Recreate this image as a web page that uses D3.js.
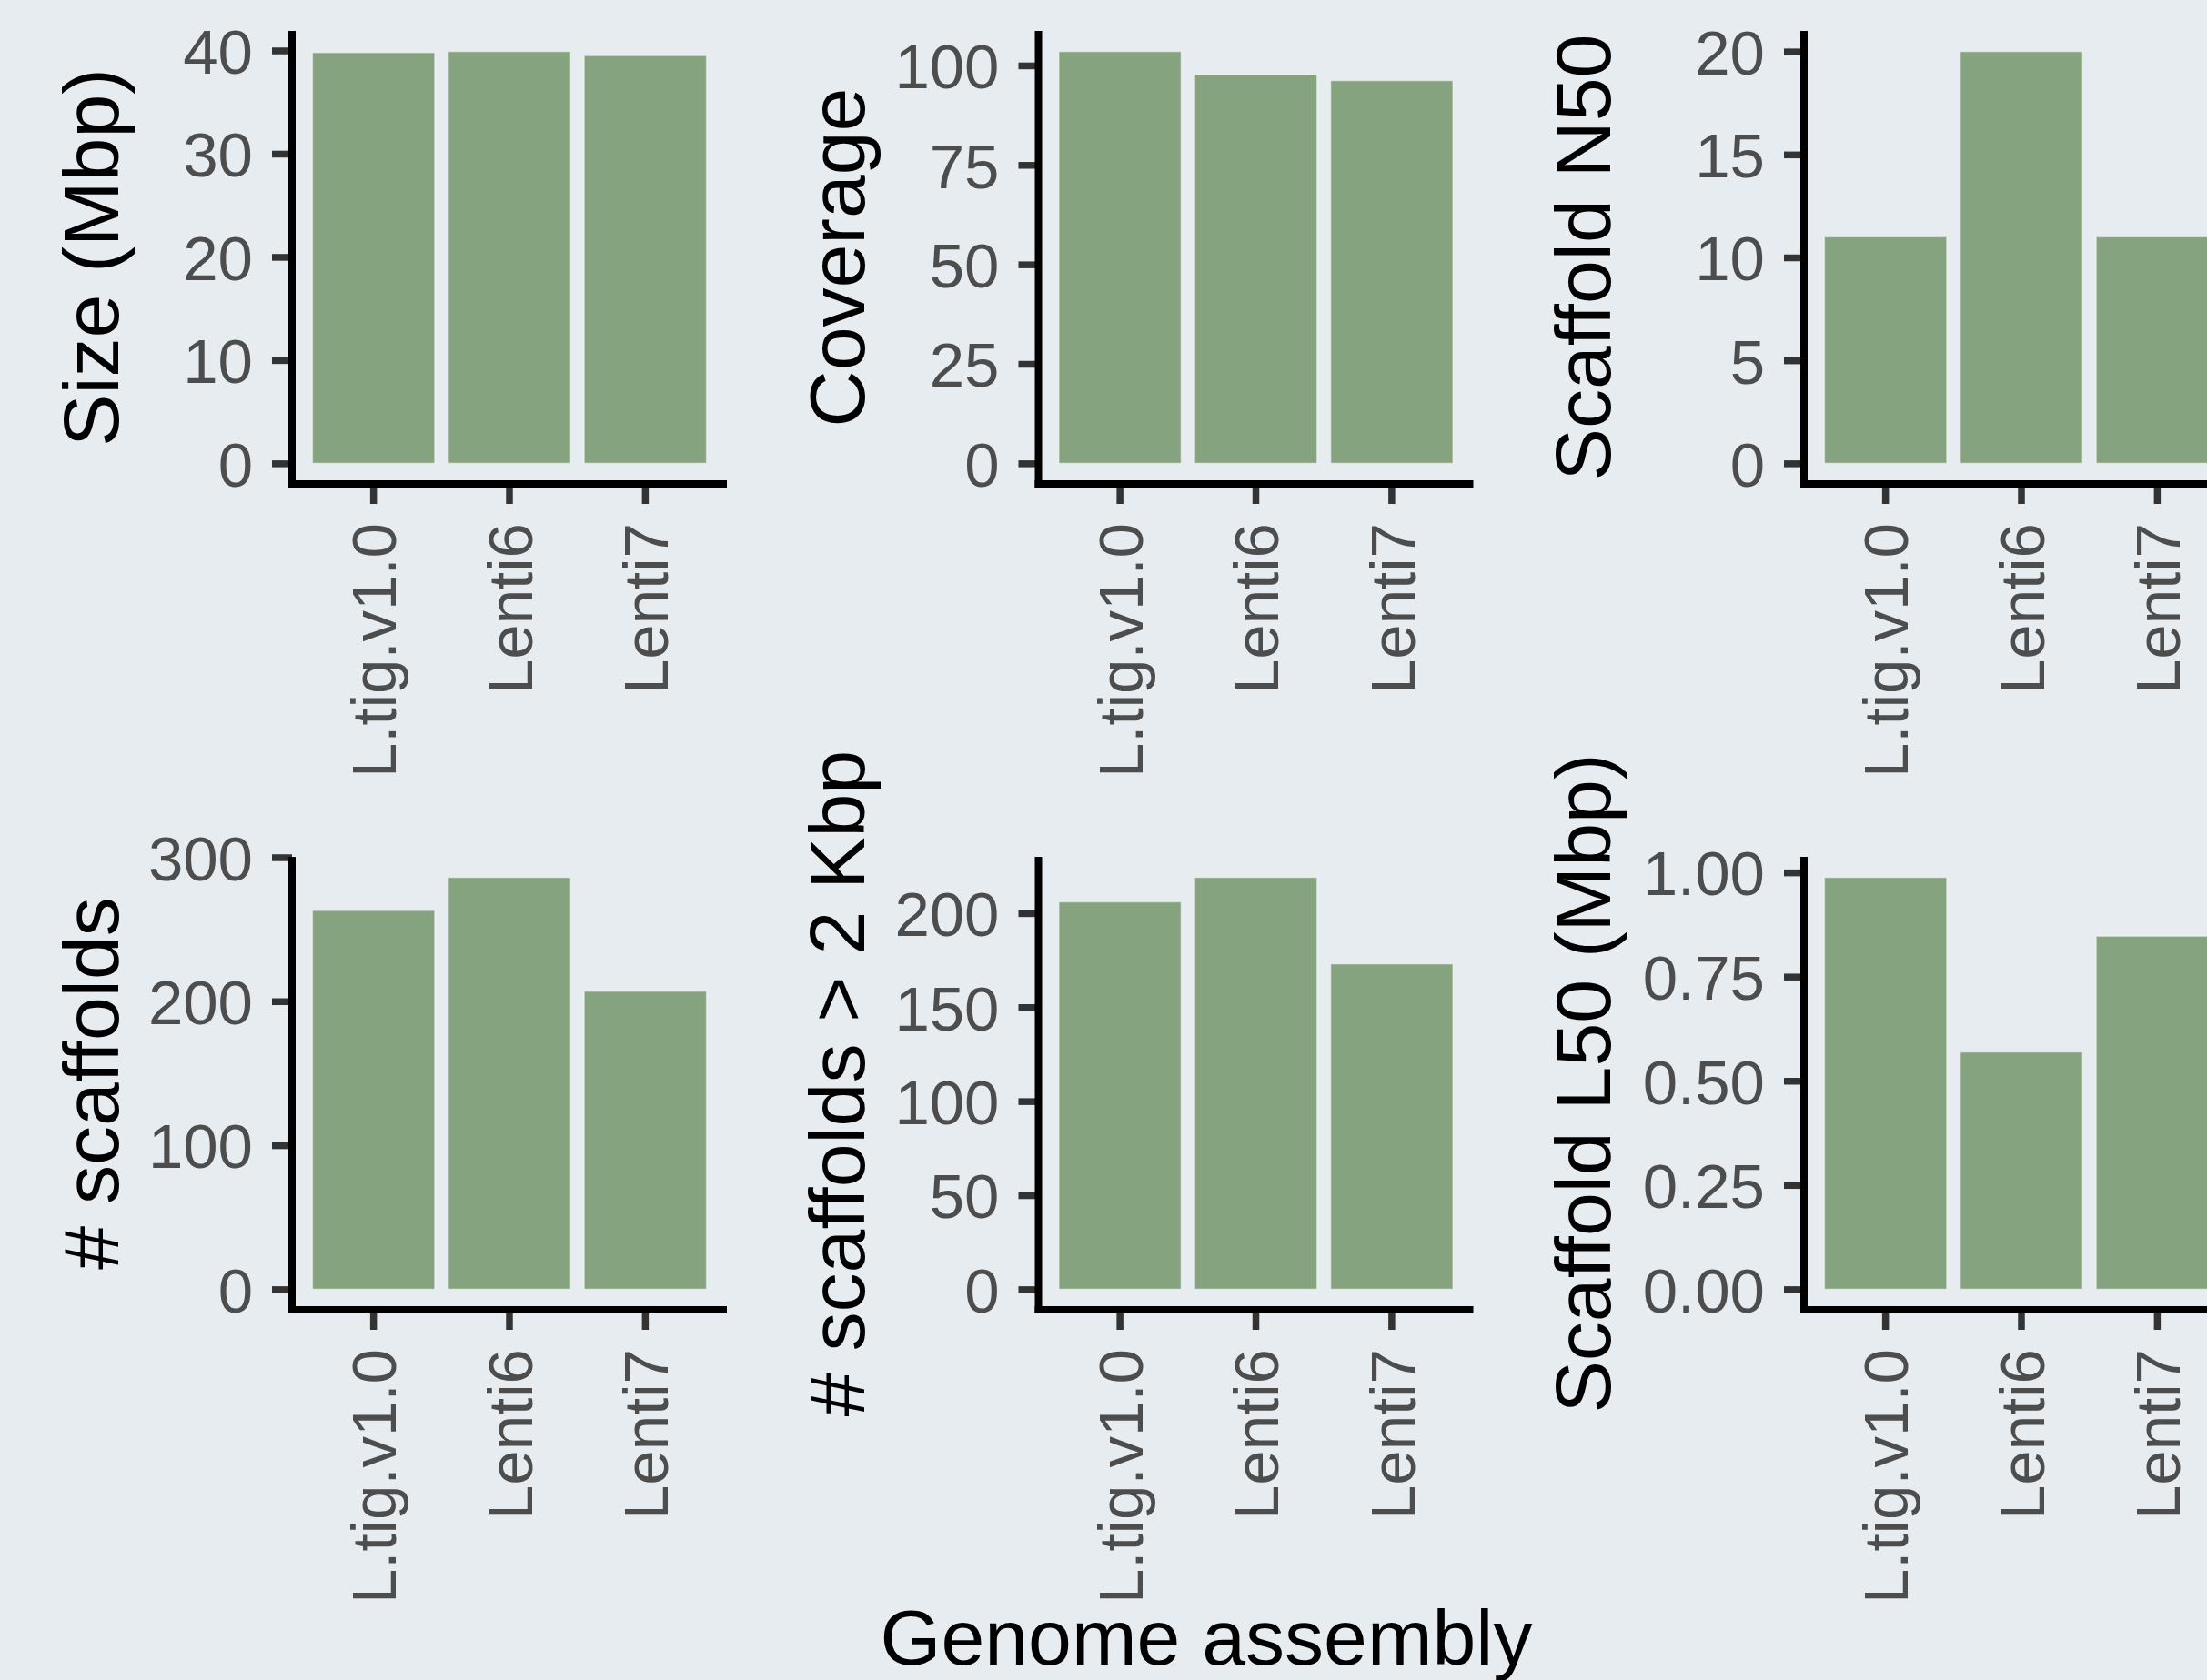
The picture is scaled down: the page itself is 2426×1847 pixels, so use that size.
<!DOCTYPE html>
<html>
<head>
<meta charset="utf-8">
<script src="https://cdn.jsdelivr.net/npm/d3@7"></script>
<style>
  body { margin: 0; background: #e6ecf0; }
  #grafica { width: 2426px; height: 1847px; overflow: hidden; }
</style>
</head>
<body>
<div id="grafica"></div>
<script>
// Datos
const ensamblajes = ["L.tig.v1.0", "Lenti6", "Lenti7"]

const tamano      = [39.8, 39.9, 39.5]
const cobertura   = [103.5, 97.7, 96.2]
const n50         = [11, 20, 11]
const scaffolds   = [263, 286, 207]
const scaffolds2k = [206, 219, 173]
const l50         = [0.988, 0.569, 0.847]

const titulos = ["Size (Mbp)", "Coverage", "Scaffold N50",
                 "# scaffolds", "# scaffolds > 2 Kbp", "Scaffold L50 (Mbp)"]
const tituloX = "Genome assembly"

const ticksTamano      = [0, 10, 20, 30, 40]
const ticksCobertura   = [0, 25, 50, 75, 100]
const ticksN50         = [0, 5, 10, 15, 20]
const ticksScaffolds   = [0, 100, 200, 300]
const ticksScaffolds2k = [0, 50, 100, 150, 200]
const ticksL50         = [0, 0.25, 0.5, 0.75, 1]

// Tabla de paneles (se arma a partir de los arreglos)
const paneles = [
  { valores: tamano,      ticks: ticksTamano,      formato: "d",   titulo: titulos[0] },
  { valores: cobertura,   ticks: ticksCobertura,   formato: "d",   titulo: titulos[1] },
  { valores: n50,         ticks: ticksN50,         formato: "d",   titulo: titulos[2] },
  { valores: scaffolds,   ticks: ticksScaffolds,   formato: "d",   titulo: titulos[3] },
  { valores: scaffolds2k, ticks: ticksScaffolds2k, formato: "d",   titulo: titulos[4] },
  { valores: l50,         ticks: ticksL50,         formato: ".2f", titulo: titulos[5] }
]

const draw = (el) => {
    const graf = d3.select(el)
    const fuente = "'Liberation Sans', Arial, sans-serif"

    // Dimensiones
    const ancho = 2426
    const alto  = 1847
    const anchoPanel = 478
    const altoPanel  = 498
    const ejeY   = [321, 1141.5, 1983]   // linea del eje y por columna
    const tituloY = [130, 950, 1770]     // linea base del titulo y por columna
    const arriba = [34, 942]             // borde superior del panel por fila

    // Area para dibujo
    const svg = graf
                  .append("svg")
                  .attr("width", ancho)
                  .attr("height", alto)

    svg.append("rect")
       .attr("width", ancho)
       .attr("height", alto)
       .attr("fill", "#e6ecf0")

    paneles.forEach((p, i) => {
        const col  = i % 3
        const fila = Math.floor(i / 3)
        const max  = d3.max(p.valores)

        // Escaladores (expansion de 5% como ggplot)
        const x = d3.scaleBand()
                    .domain(ensamblajes)
                    .range([0, anchoPanel])
                    .paddingInner(0.1)
                    .paddingOuter(0.15)
        const y = d3.scaleLinear()
                    .domain([-0.05 * max, 1.05 * max])
                    .range([altoPanel, 0])

        const g = svg.append("g")
                     .attr("transform", `translate(${ejeY[col]},${arriba[fila]})`)

        // Barras
        g.selectAll("rect")
         .data(p.valores)
         .join("rect")
         .attr("x", (d, j) => x(ensamblajes[j]))
         .attr("y", (d) => y(d))
         .attr("width", x.bandwidth())
         .attr("height", (d) => y(0) - y(d))
         .attr("fill", "#86a380")
         .attr("stroke", "#ffffff")
         .attr("stroke-opacity", 0.45)
         .attr("stroke-width", 1.5)

        // Eje y
        const ejeIzq = g.append("g")
                        .call(d3.axisLeft(y)
                                .tickValues(p.ticks)
                                .tickFormat(d3.format(p.formato))
                                .tickSize(22)
                                .tickPadding(21)
                                .tickSizeOuter(0))
        ejeIzq.select(".domain").remove()
        ejeIzq.selectAll(".tick line")
              .attr("stroke", "#333333")
              .attr("stroke-width", 7.5)
        ejeIzq.selectAll(".tick text")
              .attr("dy", "0.36em")
              .attr("fill", "#4d4d4d")
              .style("font-family", fuente)
              .style("font-size", "69px")

        // Eje x
        const ejeInf = g.append("g")
                        .attr("transform", `translate(0,${altoPanel})`)
                        .call(d3.axisBottom(x)
                                .tickSize(22)
                                .tickPadding(21)
                                .tickSizeOuter(0))
        ejeInf.select(".domain").remove()
        ejeInf.selectAll(".tick line")
              .attr("stroke", "#333333")
              .attr("stroke-width", 7.5)
        ejeInf.selectAll(".tick text")
              .attr("x", 0)
              .attr("y", 0)
              .attr("dy", "0.36em")
              .attr("transform", "translate(0,43) rotate(-90)")
              .attr("text-anchor", "end")
              .attr("fill", "#4d4d4d")
              .style("font-family", fuente)
              .style("font-size", "69px")

        // Lineas de los ejes
        g.append("line")
         .attr("x1", 0).attr("x2", 0)
         .attr("y1", 0).attr("y2", altoPanel + 4)
         .attr("stroke", "#000")
         .attr("stroke-width", 8)
        g.append("line")
         .attr("x1", -4).attr("x2", anchoPanel)
         .attr("y1", altoPanel).attr("y2", altoPanel)
         .attr("stroke", "#000")
         .attr("stroke-width", 8)

        // Titulo del eje y
        svg.append("text")
           .attr("transform", `translate(${tituloY[col]},${arriba[fila] + altoPanel / 2}) rotate(-90)`)
           .attr("text-anchor", "middle")
           .attr("fill", "#000")
           .style("font-family", fuente)
           .style("font-size", "86px")
           .text(p.titulo)
    })

    // Titulo comun del eje x
    svg.append("text")
       .attr("x", 1326)
       .attr("y", 1830)
       .attr("text-anchor", "middle")
       .attr("fill", "#000")
       .style("font-family", fuente)
       .style("font-size", "86px")
       .text(tituloX)
}

draw("#grafica")
</script>
</body>
</html>
